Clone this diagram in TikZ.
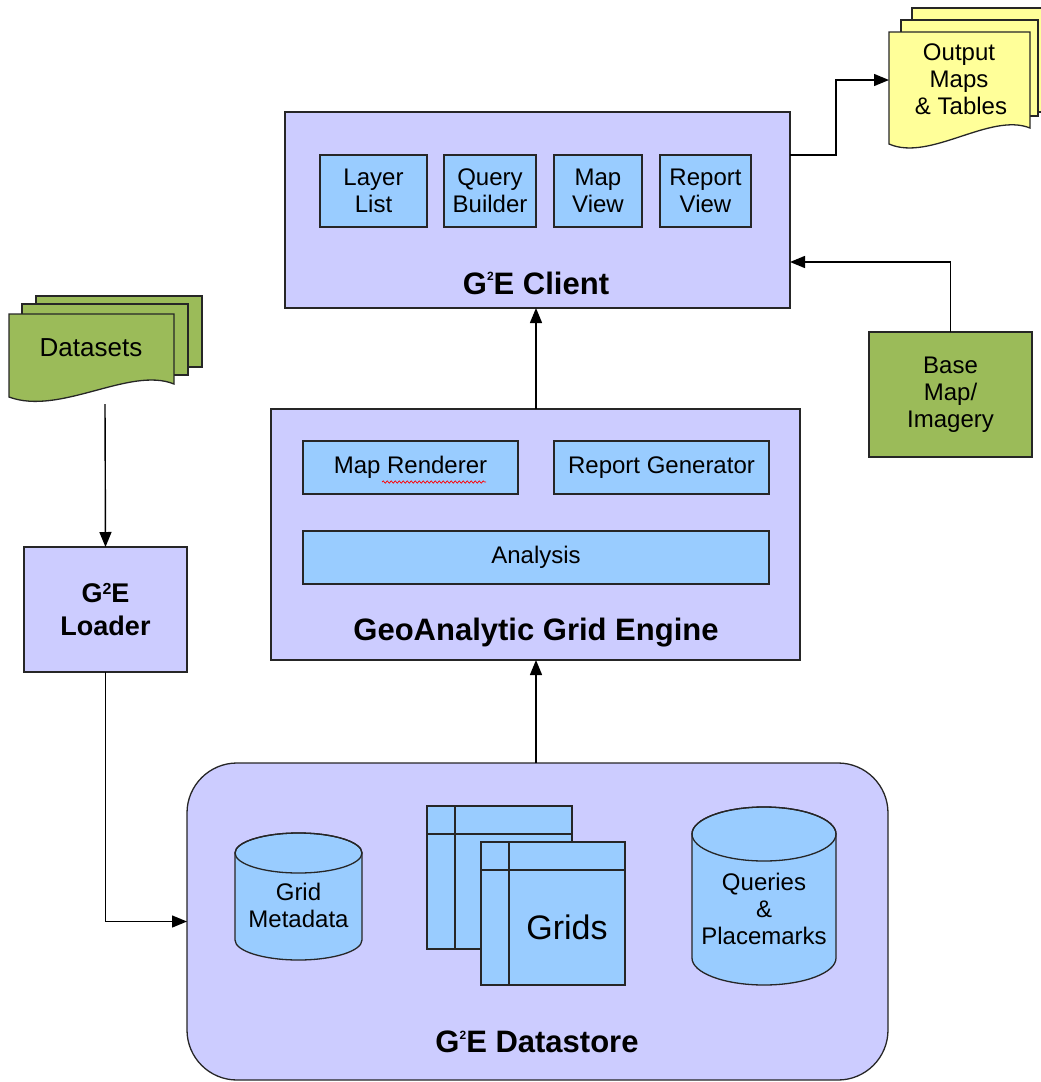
\documentclass[tikz,border=0pt]{standalone}
\usepackage{fontspec}
\setmainfont{Liberation Sans}
\usetikzlibrary{arrows.meta,decorations.pathmorphing}
\definecolor{lav}{HTML}{CCCCFF}
\definecolor{lblue}{HTML}{99CCFF}
\definecolor{dgreen}{HTML}{9BBB59}
\definecolor{lyellow}{HTML}{FFFF99}
\newcommand{\supsc}[3]{\raisebox{#2pt}{\fontsize{#1}{#1}\selectfont #3}}
\begin{document}
\begin{tikzpicture}[x=1pt,y=-1pt,
  every node/.style={inner sep=0pt, outer sep=0pt},
  bx/.style={draw=black!85, line width=1.3pt, align=center, anchor=north west, font=\fontsize{24}{27}\selectfont},
  lavbox/.style={bx, fill=lav},
  blubox/.style={bx, fill=lblue},
  grnbox/.style={bx, fill=dgreen},
  ttl/.style={font=\fontsize{31}{34}\selectfont\bfseries, align=center},
  txt/.style={align=center, font=\fontsize{24}{27}\selectfont},
  shp/.style={draw=black!85, line width=1.3pt},
  arr/.style={line width=1.4pt, -{Triangle[length=15pt,width=12pt]}},
  ln/.style={line width=1.4pt}
]
\useasboundingbox (0,0) rectangle (1041,1082);

% ---------- Output documents ----------
\draw[shp, fill=lyellow] (912,8) rectangle (1052,112);
\draw[shp, fill=lyellow] (901,20) rectangle (1038,116);
\draw[shp, fill=lyellow] (889,32) -- (1030,32) -- (1030,128) .. controls (990,112) and (930,162) .. (889,144) -- cycle;
\node[txt] (output) at (959,79) {Output\\Maps\\\,\& Tables};
\coordinate (outin) at (889,80);

% ---------- Datasets ----------
\draw[shp, fill=dgreen] (36,296) rectangle (202,367);
\draw[shp, fill=dgreen] (22,304) rectangle (188,375);
\draw[shp, fill=dgreen] (9,314) -- (174,314) -- (174,384) .. controls (130,366) and (60,416) .. (9,397) -- cycle;
\node[txt, font=\fontsize{26}{28}\selectfont] (datasets) at (91,348) {Datasets};
\coordinate (dsbot) at (105,404);

% ---------- Client ----------
\node[lavbox, minimum width=505pt, minimum height=196pt] (client) at (285,112) {};
\node[blubox, minimum width=107pt, minimum height=72pt] (layer) at (320,155) {Layer\\List};
\node[blubox, minimum width=92pt, minimum height=72pt] (query) at (444,155) {Query\\Builder};
\node[blubox, minimum width=88pt, minimum height=72pt] (mapview) at (554,155) {Map\\View};
\node[blubox, minimum width=91pt, minimum height=72pt] (report) at (660,155) {Report\\View};
\node[ttl] (clientt) at (536,283) {G\supsc{12}{13.5}{2}E Client};
\coordinate (clin) at (790,262);

% ---------- Base map ----------
\node[grnbox, minimum width=163pt, minimum height=125pt] (base) at (869,332) {Base\\Map/\\Imagery};

% ---------- Engine ----------
\node[lavbox, minimum width=529pt, minimum height=251pt] (engine) at (271,409) {};
\node[blubox, minimum width=215pt, minimum height=53pt] (renderer) at (303,441) {Map Renderer};
\node[blubox, minimum width=215pt, minimum height=53pt] (generator) at (554,441) {Report Generator};
\node[blubox, minimum width=466pt, minimum height=53pt] (analysis) at (303,531) {Analysis};
\node[ttl] (enginet) at (536,633) {GeoAnalytic Grid Engine};
\draw[red, line width=0.7pt, decorate, decoration={snake, amplitude=1.2pt, segment length=4pt}] (382,482) -- (486,482);

% ---------- Loader ----------
\node[lavbox, minimum width=163pt, minimum height=125pt, font=\fontsize{27}{33}\selectfont\bfseries] (loader) at (24,547) {G\supsc{16}{7.5}{2}E\\Loader};

% ---------- Datastore ----------
\node[lavbox, minimum width=701pt, minimum height=317pt, rounded corners=50pt] (store) at (187,763) {};
\node[ttl] (storet) at (537,1042) {G\supsc{12}{13.5}{2}E Datastore};

% Grid Metadata cylinder
\draw[shp, fill=lblue] (235,853) -- (235,940) arc[start angle=180, end angle=0, x radius=63.5, y radius=20] -- (362,853) arc[start angle=0, end angle=-180, x radius=63.5, y radius=20] -- cycle;
\draw[shp] (298.5,853) ellipse[x radius=63.5, y radius=20];
\node[txt] (meta) at (298.5,905) {Grid\\Metadata};

% Queries cylinder
\draw[shp, fill=lblue] (692,834) -- (692,958) arc[start angle=180, end angle=0, x radius=72, y radius=27] -- (836,834) arc[start angle=0, end angle=-180, x radius=72, y radius=27] -- cycle;
\draw[shp] (764,834) ellipse[x radius=72, y radius=27];
\node[txt] (queries) at (764,909) {Queries\\\&\\Placemarks};

% Grids
\draw[shp, fill=lblue] (427,806) rectangle (572,949);
\draw[shp] (455,806) -- (455,949);
\draw[shp] (427,834) -- (572,834);
\draw[shp, fill=lblue] (481,842) rectangle (625,985);
\draw[shp] (509,842) -- (509,985);
\draw[shp] (481,870) -- (625,870);
\node[font=\fontsize{34}{36}\selectfont] (grids) at (567,927) {Grids};

% ---------- Connectors ----------
\draw[arr] (client.north east |- layer.north) -- ++(46,0) |- (outin);
\draw[arr] (base.north) |- (clin);
\draw[arr] (engine.north -| clientt) -- (client.south -| clientt);
\draw[arr] (store.north -| clientt) -- (engine.south -| clientt);
\draw[arr] (dsbot) -- (loader.north);
\draw[arr] (loader.south) |- (store.west);
\end{tikzpicture}
\end{document}
